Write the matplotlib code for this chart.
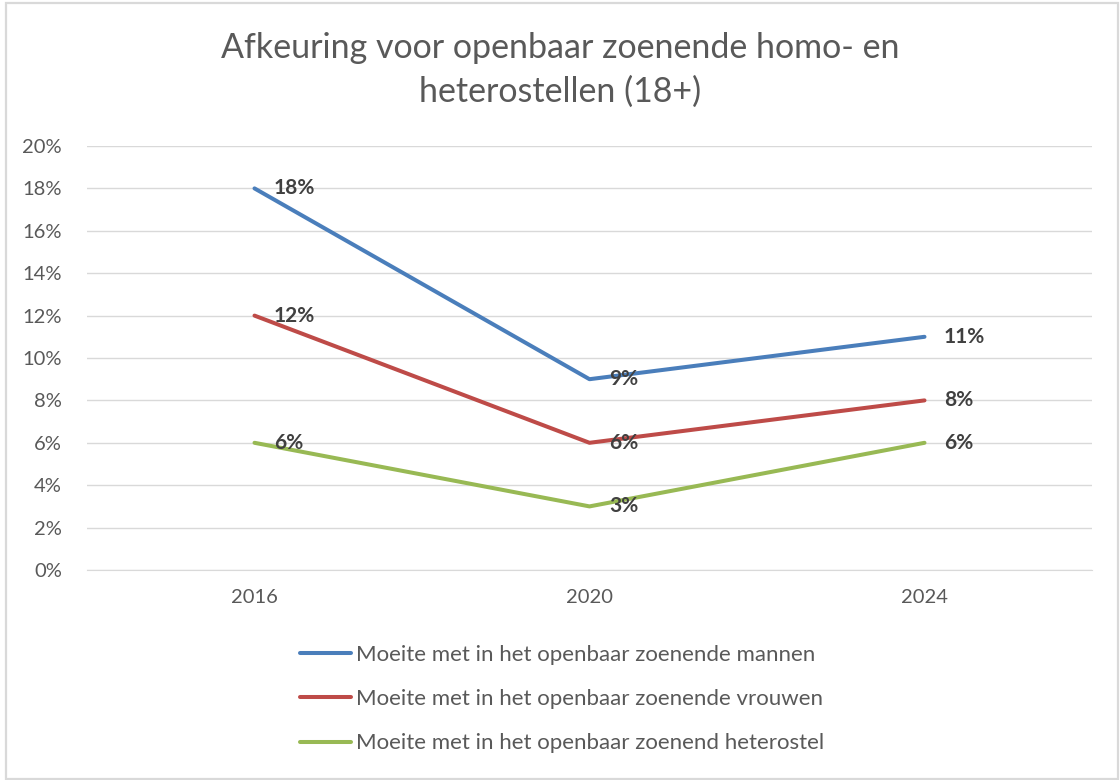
import matplotlib
matplotlib.use("Agg")
import matplotlib.pyplot as plt
from matplotlib.patches import Rectangle
from matplotlib.ticker import FuncFormatter, MultipleLocator

years = ["2016", "2020", "2024"]
mannen = [18, 9, 11]
vrouwen = [12, 6, 8]
hetero = [6, 3, 6]
series_names = [
    "Moeite met in het openbaar zoenende mannen",
    "Moeite met in het openbaar zoenende vrouwen",
    "Moeite met in het openbaar zoenend heterostel",
]
colors = ["#4a7ebb", "#be4b48", "#98b954"]
title = "Afkeuring voor openbaar zoenende homo- en\nheterostellen (18+)"

plt.rcParams['font.family'] = ['Lato', 'DejaVu Sans']

fig = plt.figure(figsize=(11.2, 7.8), dpi=100)
fig.patches.append(Rectangle((6/1120, 1/780), 1112/1120, 776/780, transform=fig.transFigure,
                             fill=False, edgecolor="#d9d9d9", linewidth=1.6))

ax = fig.add_axes([87/1120, 1 - 570/780, 1005/1120, 424/780])
x = list(range(len(years)))
lines = []
for vals, name, c in zip([mannen, vrouwen, hetero], series_names, colors):
    ln, = ax.plot(x, vals, color=c, linewidth=2.9, solid_capstyle="round", label=name, zorder=3)
    lines.append(ln)
    for xi, v in zip(x, vals):
        ax.annotate(f"{v}%", (xi, v), xytext=(14, 0), textcoords="offset points",
                    ha="left", va="center", fontsize=15, fontweight="bold", color="#404040", zorder=4)

ax.set_xlim(-0.5, 2.5)
ax.set_ylim(0, 20)
ax.yaxis.set_major_locator(MultipleLocator(2))
ax.yaxis.set_major_formatter(FuncFormatter(lambda v, p: f"{int(round(v))}%"))
ax.set_xticks(x)
ax.set_xticklabels(years)
ax.grid(axis="y", color="#d9d9d9", linewidth=1)
ax.set_axisbelow(True)
for s in ["top", "right", "left"]:
    ax.spines[s].set_visible(False)
ax.spines["bottom"].set_color("#d9d9d9")
ax.tick_params(axis="both", length=0, labelsize=14.5, colors="#595959")
ax.tick_params(axis="y", pad=18)
ax.tick_params(axis="x", pad=14)

fig.text(0.5, 1 - 70/780, title, ha="center", va="center", fontsize=24.5, color="#595959",
         linespacing=1.45)

leg = fig.legend(handles=lines, loc="center", bbox_to_anchor=(562/1120, 1 - 699/780),
                 frameon=False, fontsize=16, handlelength=2.3, handletextpad=0.25,
                 labelspacing=1.1, labelcolor="#595959")

fig.savefig("out.png", dpi=100)
